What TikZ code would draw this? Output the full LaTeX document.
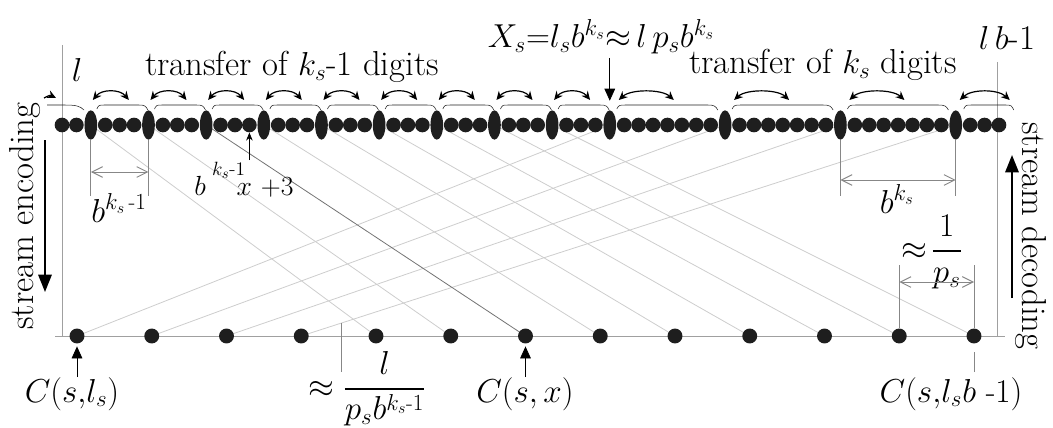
\documentclass[tikz,border=0pt]{standalone}
\usepackage{amsmath}
\usetikzlibrary{arrows.meta,shapes.geometric,backgrounds}
\definecolor{dotc}{RGB}{30,30,30}
\definecolor{latc}{RGB}{205,205,205}
\definecolor{rimc}{RGB}{160,160,160}
\definecolor{dimc}{RGB}{135,135,135}

\begin{document}
\begin{tikzpicture}[
  x=0.75pt,y=-0.75pt,
  font=\fontsize{24}{28}\selectfont,
  words/.style={font=\fontsize{26}{30}\selectfont},
  sdot/.style={circle,fill=dotc,inner sep=0pt,minimum size=11pt},
  edot/.style={ellipse,fill=dotc,inner sep=0pt,minimum width=9.5pt,minimum height=22pt},
  bdot/.style={circle,fill=dotc,inner sep=0pt,minimum size=11.2pt},
  rim/.style={rimc,line width=0.75pt},
  lat/.style={latc,line width=0.6pt},
  dimline/.style={dimc,line width=0.75pt},
  dimarr/.style={dimline,{Straight Barb[length=8pt,width=8pt]}-{Straight Barb[length=8pt,width=8pt]}},
  xfer/.style={line width=0.9pt,{Stealth[length=6.5pt,width=6pt]}-{Stealth[length=6.5pt,width=6pt]}},
  tarc/.style={dotc,line width=0.4pt},
  ptr/.style={line width=0.6pt,-{Triangle[length=9pt,width=8pt]}},
  flow/.style={line width=1.6pt,-{Triangle[length=13pt,width=10pt]}},
]
\useasboundingbox (0,0) rectangle (1053,428);

% upper row: l ... lb-1
\foreach \i in {0,...,65}{
  \pgfmathtruncatemacro\isE{(\i<39 && mod(\i+2,4)==0) || (\i>38 && mod(\i+2,8)==0)}
  \ifnum\isE=1
    \node[edot] (t\i) at ({62+14.415*\i},125) {};
  \else
    \node[sdot] (t\i) at ({62+14.415*\i},125) {};
  \fi
}
% lower row: C(s,l_s) ... C(s,l_s b-1)
\foreach \j in {0,...,12}
  \node[bdot] (b\j) at ({77+74.75*\j},336) {};

\coordinate (rimA) at (62,45);
\coordinate (rimB) at (55,336);
\coordinate (rimC) at (1005,336);
\coordinate (rimD) at (997,62);

\begin{scope}[on background layer]
  \draw[rim] (rimA) -- (rimA |- rimB);
  \draw[rim] (rimB) -- (rimC);
  \draw[rim] (rimD) -- (rimD |- rimB);
  \foreach \j/\i in {0/38,1/46,2/54,3/62,4/2,5/6,7/14,8/18,9/22,10/26,11/30,12/34}
    \draw[lat] (b\j.center) -- (t\i.center);
  \draw[line width=0.6pt,black!55] (b6.center) -- (t10.center);
\end{scope}

% transfer of k_s-1 digits
\foreach \i in {2,6,...,34}{
  \draw[xfer] ([shift={(2,-25)}]t\i.center) .. controls +(9,-11) and +(-9,-11) .. ([shift={(38,-25)}]t\i.center);
  \draw[tarc] ([shift={(6,-16)}]t\i.center) .. controls +(2,-4) and +(-6,0) .. ([shift={(14,-20)}]t\i.center)
    -- ([shift={(48,-20)}]t\i.center) .. controls +(6,0) and +(-2,-4) .. ([shift={(57,-15)}]t\i.center);
}
% transfer of k_s digits
\foreach \i in {38,46,54}{
  \draw[xfer] ([shift={(9,-25)}]t\i.center) .. controls +(12,-11) and +(-12,-11) .. ([shift={(64,-25)}]t\i.center);
  \draw[tarc] ([shift={(7,-16)}]t\i.center) .. controls +(2,-4) and +(-6,0) .. ([shift={(16,-20)}]t\i.center)
    -- ([shift={(98,-20)}]t\i.center) .. controls +(6,0) and +(-2,-4) .. ([shift={(108,-15)}]t\i.center);
}
\draw[xfer] ([shift={(4,-25)}]t62.center) .. controls +(12,-11) and +(-12,-11) .. ([shift={(54,-25)}]t62.center);
\draw[tarc] ([shift={(8,-16)}]t62.center) .. controls +(2,-4) and +(-6,0) .. ([shift={(16,-20)}]t62.center)
  -- ([shift={(50,-20)}]t62.center) .. controls +(6,0) and +(-2,-4) .. ([shift={(58,-15)}]t62.center);
\draw[line width=0.9pt,-{Stealth[length=6.5pt,width=6pt]}] ([shift={(-18,-27)}]t0.center) .. controls +(6,-3) .. ([shift={(-6,-27)}]t0.center);
\draw[tarc] ([shift={(-15,-20)}]t0.center) -- ([shift={(2,-20)}]t0.center) .. controls +(12,0) and +(-4,-4) .. ([shift={(22,-15)}]t0.center);

% texts above
\node[anchor=base,words] (lowl) at (77,82) {$l$};
\node[anchor=base,words] (xfa) at (292,76) {transfer of $k_s$-1 digits};
\node[anchor=base,inner sep=1pt] (xs) at (601,48) {$X_s{=}l_s b^{k_s}{\approx}\,l\,p_s b^{k_s}$};
\node[anchor=base,words] (xfb) at (823,74) {transfer of $k_s$ digits};
\node[anchor=base,words] (lbm) at (1007,50) {$l\,b$-1};
\draw[ptr] (t38 |- 0,58) -- (t38.north) [shorten >=7pt];

% dimensions
\node[anchor=base] (dlow) at (119,222) {$b^{k_s\,\text{-}1}$};
\draw[dimline] (t2.south) -- (t2 |- 0,196);
\draw[dimline] (t6.south) -- (t6 |- 0,196);
\draw[dimarr] (t2 |- 0,172) -- (t6 |- 0,172);
\node[anchor=base,font=\fontsize{22}{26}\selectfont] (xpt) at (244,195)
  {$b\mkern4mu\rlap{\raisebox{0.66em}{$\scriptstyle k_s\text{-}1$}}\mkern16mu x\ {+}3$};
\draw[line width=0.6pt,-{Stealth[length=6pt,width=5pt]}] (t13 |- 0,160) -- (t13.south);
\node[anchor=base] (dhigh) at (897,213) {$b^{k_s}$};
\draw[dimline] (t54.south) -- (t54 |- 0,196);
\draw[dimline] (t62.south) -- (t62 |- 0,196);
\draw[dimarr] (t54 |- 0,180) -- (t62 |- 0,180);
\node (dinv) at (932,252) {$\approx\!\dfrac{1}{p_s}$};
\draw[dimline] (b11.north) -- (b11 |- 0,265);
\draw[dimline] (b12.north) -- (b12 |- 0,265);
\draw[dimarr] (b11 |- 0,282) -- (b12 |- 0,282);

% side arrows
\node[rotate=90,words] (enc) at (25,216) {stream encoding};
\node[rotate=-90,words] (dec) at (1031,236) {stream decoding};
\coordinate (encA) at (45,140);
\coordinate (encB) at (45,292);
\coordinate (decA) at (1012,298);
\coordinate (decB) at (1012,155);
\draw[flow] (encA) -- (encB);
\draw[flow] (decA) -- (decB);

% texts below
\node[anchor=base] (cl) at (72,402) {$C(s{,}l_s)$};
\node[anchor=base] (cx) at (525,402) {$C(s,x)$};
\node[anchor=base] (cb) at (951,402) {$C(s{,}l_s b\ \text{-}1)$};
\node (dgap) at (367,389) {$\approx\dfrac{l}{p_s b^{k_s\text{-}1}}$};
\draw[ptr] (b0 |- 0,377) -- (b0.south) [shorten >=2pt];
\draw[ptr] (b6 |- 0,377) -- (b6.south) [shorten >=2pt];
\draw[dimline] (b12 |- 0,372) -- ([yshift=-6pt]b12.south);
\coordinate (gapT) at (341,323);
\coordinate (gapB) at (341,372);
\draw[dimline] (gapT) -- (gapB);
\end{tikzpicture}
\end{document}
